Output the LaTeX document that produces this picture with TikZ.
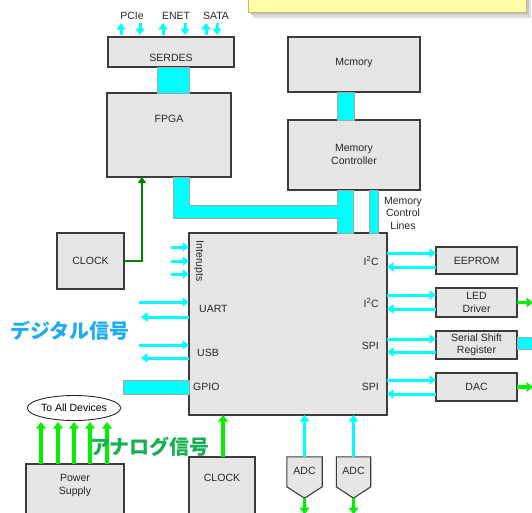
\documentclass[tikz,border=0pt]{standalone}
\usepackage{fontspec}
\setmainfont{Liberation Sans}
\newfontfamily\jp{Noto Sans CJK JP}
\usetikzlibrary{arrows.meta,calc,shapes.geometric}
\definecolor{boxfill}{RGB}{230,230,230}
\definecolor{boxline}{RGB}{60,60,60}
\definecolor{busc}{RGB}{0,255,255}
\definecolor{brightg}{RGB}{0,240,0}
\definecolor{darkg}{RGB}{0,128,0}
\definecolor{jpblue}{RGB}{30,170,240}
\definecolor{jpgreen}{RGB}{20,175,80}
\definecolor{notefill}{RGB}{255,255,170}
\definecolor{noteline}{RGB}{200,185,110}
\begin{document}
\begin{tikzpicture}[x=1pt,y=-1pt,
  box/.style={draw=boxline, fill=boxfill, line width=1.1pt, inner sep=0pt, outer sep=0pt},
  txt/.style={font=\fontsize{10.5}{12.5}\selectfont, inner sep=0pt, align=center, text=black!85},
  bus/.style={fill=busc, draw=black!35, line width=0.4pt},
  carr/.style={draw=busc, line width=3pt, -{Triangle[length=6.5pt,width=9pt]}},
  garr/.style={draw=brightg, line width=3.2pt, -{Triangle[length=6.5pt,width=9.5pt]}},
]
\useasboundingbox (0,0) rectangle (532,512);
\clip (0,0) rectangle (532,512);

% note at top
\fill[black!12] (253,-5) rectangle (531,18);
\fill[black!22] (251,-5) rectangle (529,15);
\draw[fill=notefill, draw=noteline, line width=0.6pt] (248,-5) rectangle (526,12);

% boxes
\node[box, minimum width=126pt, minimum height=30pt] (serdes) at (171,52) {};
\node[box, minimum width=124pt, minimum height=84pt] (fpga) at (169,135) {};
\node[box, minimum width=132pt, minimum height=55pt] (mem) at (354,64.5) {};
\node[box, minimum width=132pt, minimum height=70pt] (memctrl) at (354,155) {};
\node[box, minimum width=198pt, minimum height=182pt] (cpu) at (288,324) {};
\node[box, minimum width=67pt, minimum height=56pt] (clock1) at (90.5,261) {};
\node[box, minimum width=81pt, minimum height=27pt] (eeprom) at (476.5,260.5) {};
\node[box, minimum width=81pt, minimum height=29pt] (led) at (476.5,302.5) {};
\node[box, minimum width=81pt, minimum height=28pt] (ssr) at (476.5,345) {};
\node[box, minimum width=81pt, minimum height=28pt] (dac) at (476.5,387) {};
\node[box, minimum width=98pt, minimum height=61pt] (power) at (75,494.5) {};
\node[box, minimum width=66pt, minimum height=68pt] (clock2) at (222,491) {};

% ADC shapes
\node[inner sep=0pt, minimum width=35pt, minimum height=41pt] (adc1) at (304.5,477.5) {};
\node[inner sep=0pt, minimum width=34pt, minimum height=41pt] (adc2) at (353.5,477.5) {};
\foreach \a in {adc1,adc2}{
  \draw[box] (\a.north west) -- (\a.north east) -- ++(0,30) -- (\a.south) -- ($(\a.north west)+(0,30)$) -- cycle;
}

% box texts
\node[txt] (serdesT) at (171,58) {SERDES};
\node[txt] (fpgaT) at (169,119) {FPGA};
\node[txt] (memT) at (354,63) {Mcmory};
\node[txt] (memctrlT) at (354,154.5) {Memory\\Controller};
\node[txt] (clock1T) at (90.5,261) {CLOCK};
\node[txt] (eepromT) at (476.5,261) {EEPROM};
\node[txt] (ledT) at (476.5,302.5) {LED\\Driver};
\node[txt] (ssrT) at (476.5,345) {Serial Shift\\Register};
\node[txt] (dacT) at (476.5,387) {DAC};
\node[txt] (powerT) at (75,485.5) {Power\\Supply};
\node[txt] (clock2T) at (222,478) {CLOCK};
\node[txt] (adc1T) at (304.5,471) {ADC};
\node[txt] (adc2T) at (353.5,471) {ADC};

% CPU inner labels
\node[txt, rotate=-90] (intT) at (199,261) {Interupts};
\node[txt, anchor=west] (uartT) at (199,309) {UART};
\node[txt, anchor=west] (usbT) at (197,353) {USB};
\node[txt, anchor=west] (gpioT) at (193,387) {GPIO};
\node[txt, anchor=east] (i2c1) at (379,261) {I\textsuperscript{2}C};
\node[txt, anchor=east] (i2c2) at (379,303) {I\textsuperscript{2}C};
\node[txt, anchor=east] (spi1) at (379,346) {SPI};
\node[txt, anchor=east] (spi2) at (379,387) {SPI};

% top labels
\node[txt] (pcie) at (132,16) {PCIe};
\node[txt] (enet) at (176,16) {ENET};
\node[txt] (sata) at (216,16) {SATA};
\node[txt] (mcl) at (403,213) {Memory\\Control\\Lines};

% buses
\draw[bus] (157,67) rectangle (189,93);
\draw[bus] (337,92) rectangle (354,120);
\draw[bus] (173,177) -- (173,218) -- (337,218) -- (337,233) -- (353,233) -- (353,190)
  -- (337,190) -- (337,205) -- (189,205) -- (189,177) -- cycle;
\draw[bus] (369,190) rectangle (378,233);
\draw[bus] (123,380) rectangle (189,394);
\draw[bus] (517,337) rectangle (534,349);

% SERDES arrows
\foreach \x in {121,163,206} \draw[carr] ($(serdes.north -| \x,0)+(0,-2)$) -- (\x,23);
\foreach \x in {140,185,217} \draw[carr] (\x,23) -- ($(serdes.north -| \x,0)+(0,-2)$);

% interrupt arrows
\foreach \y in {247,261,274} \draw[carr] (171,\y) -- (cpu.west |- 0,\y);
% UART / USB
\draw[carr] (139,302) -- (cpu.west |- 0,302);
\draw[carr] (cpu.west |- 0,317) -- (141,317);
\draw[carr] (139,345) -- (cpu.west |- 0,345);
\draw[carr] (cpu.west |- 0,358) -- (141,358);

% right side arrows
\foreach \b/\ya/\yb in {eeprom/253/267, led/295/309, ssr/339/352, dac/380/394}{
  \draw[carr] (cpu.east |- 0,\ya) -- (\b.west |- 0,\ya);
  \draw[carr] (\b.west |- 0,\yb) -- (cpu.east |- 0,\yb);
}
\draw[garr] (led.east) -- ++(16,0);
\draw[garr] (dac.east) -- ++(16,0);

% ADC arrows
\draw[carr] (adc1.north) -- (adc1.north |- cpu.south);
\draw[carr] (adc2.north) -- (adc2.north |- cpu.south);
\draw[garr] (adc1.south) -- ++(0,16);
\draw[garr] (adc2.south) -- ++(0,16);

% clock arrows
\draw[garr] (clock2.north -| 223,0) -- (cpu.south -| 223,0);
\draw[draw=darkg, line width=2.6pt, -{Triangle[length=6pt,width=8pt]}] (clock1.east) -| (fpga.south -| 142,0);

% power
\node[ellipse, draw=black!85, line width=0.9pt, fill=white, minimum width=85pt, minimum height=25pt, inner sep=0pt, font=\fontsize{10.5}{12.5}\selectfont] (all) at (74,408) {To All Devices};
\foreach \x in {41,58,74,90,107} \draw[garr] (power.north -| \x,0) -- (\x,422);

% Japanese labels
\node[font=\jp\bfseries\fontsize{20}{24}\selectfont, text=jpblue, inner sep=0pt] (digital) at (70,331) {デジタル信号};
\node[font=\jp\bfseries\fontsize{20}{24}\selectfont, text=jpgreen, inner sep=0pt] (analog) at (150,447) {アナログ信号};
\end{tikzpicture}
\end{document}
